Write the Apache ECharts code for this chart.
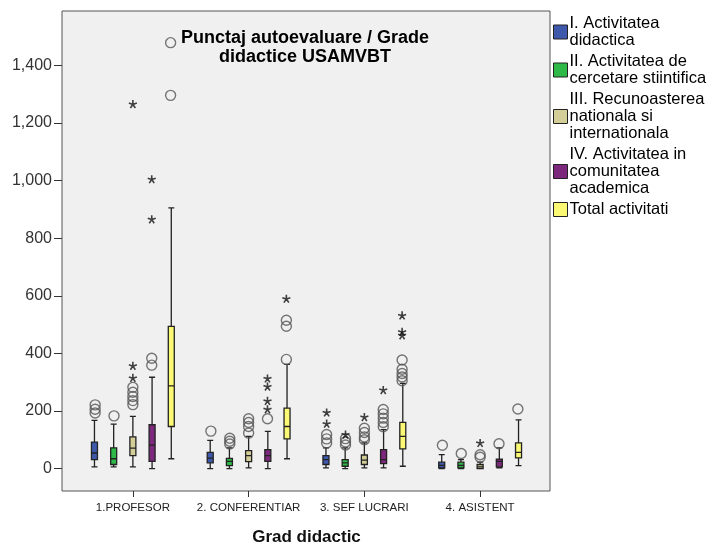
<!DOCTYPE html>
<html><head><meta charset="utf-8">
<script src="https://cdn.jsdelivr.net/npm/echarts@6/dist/echarts.min.js"></script>
<style>html,body{margin:0;padding:0;background:#fff}#c{width:713px;height:543px}</style>
</head><body><div id="c"></div>
<script>
// ---------- data ----------
const categories = ['1.PROFESOR', '2. CONFERENTIAR', '3. SEF LUCRARI', '4. ASISTENT'];
const seriesNames = [
  'I. Activitatea\ndidactica',
  'II. Activitatea de\ncercetare stiintifica',
  'III. Recunoasterea\nnationala si\ninternationala',
  'IV. Activitatea in\ncomunitatea\nacademica',
  'Total activitati'
];
const seriesColors = ['#3e58ac', '#2eb848', '#d3ce97', '#7c287d', '#fbf873'];
const yTicks = [0, 200, 400, 600, 800, 1000, 1200, 1400];

// box stats [min, Q1, median, Q3, max] per category
const didacticaBox  = [[6, 31, 54, 92, 167], [0, 20, 36, 56, 98], [2, 14, 31, 45, 72], [0, 2, 11, 22, 48]];
const cercetareBox  = [[6, 14, 34, 72, 154], [0, 10, 25, 35, 72], [0, 8, 20, 31, 72], [0, 2, 11, 22, 31]];
const recunoastBox  = [[6, 45, 71, 110, 181], [2, 24, 45, 62, 112], [2, 14, 29, 47, 89], [0, 0, 6, 14, 22]];
const comunitateBox = [[0, 25, 81, 152, 317], [0, 25, 45, 66, 129], [2, 17, 31, 66, 135], [2, 6, 25, 33, 72]];
const totalBox      = [[34, 146, 287, 494, 905], [34, 103, 146, 210, 362], [8, 68, 112, 160, 296], [10, 37, 56, 89, 169]];

// outliers (circles) per category
const didacticaOut  = [[193, 206, 221], [130], [89, 103, 118], [81]];
const cercetareOut  = [[183], [85, 95, 105], [82, 92, 104], [52]];
const recunoastOut  = [[222, 236, 250, 265, 282], [123, 146, 160, 173], [100, 110, 125, 140], [39, 48]];
const comunitateOut = [[359, 383], [173], [145, 160, 175, 190, 205], [86]];
const totalOut      = [[1296, 1479], [379, 494, 515], [305, 318, 330, 345, 377], [207]];

// extremes (stars) per category
const didacticaExt  = [[], [], [156, 195], []];
const cercetareExt  = [[], [], [118], []];
const recunoastExt  = [[315, 357, 1266], [], [179], [89]];
const comunitateExt = [[866, 1005], [206, 235, 285, 313], [273], []];
const totalExt      = [[], [590], [463, 475, 532], []];

// ---------- build ----------
const boxes = [didacticaBox, cercetareBox, recunoastBox, comunitateBox, totalBox];
const outs = [didacticaOut, cercetareOut, recunoastOut, comunitateOut, totalOut];
const exts = [didacticaExt, cercetareExt, recunoastExt, comunitateExt, totalExt];
const SLOT = 0.163; // horizontal slot of each box inside a category, in category units
const STAR = 'path://M5 5L5 0M5 5L9.76 3.45M5 5L7.94 9.05M5 5L2.06 9.05M5 5L0.24 3.45';
const FONT = 'Liberation Sans, Arial, sans-serif';

function points(list, s) {
  const out = [];
  list.forEach((vals, ci) => vals.forEach(v => out.push([ci + (s - 2) * SLOT, v])));
  return out;
}

const Y_MIN = -78, Y_MAX = 1589;
const series = [];
boxes.forEach((b, s) => {
  series.push({
    type: 'boxplot', name: seriesNames[s], xAxisIndex: 1, yAxisIndex: 1,
    data: b, boxWidth: [6, 6],
    itemStyle: { color: seriesColors[s], borderColor: '#222', borderWidth: 1.3 },
    emphasis: { disabled: true }, silent: true
  });
});
boxes.forEach((b, s) => {
  series.push({
    type: 'scatter', name: 'o' + s, xAxisIndex: 2, yAxisIndex: 1,
    data: points(outs[s], s), symbol: 'circle', symbolSize: 10,
    itemStyle: { color: 'rgba(0,0,0,0)', borderColor: '#555', borderWidth: 1.4 },
    silent: true, z: 3
  });
  series.push({
    type: 'scatter', name: 'e' + s, xAxisIndex: 2, yAxisIndex: 1,
    data: points(exts[s], s), symbol: STAR, symbolSize: 8,
    itemStyle: { color: 'none', borderColor: '#111', borderWidth: 1.6 },
    silent: true, z: 3
  });
});

const chart = echarts.init(document.getElementById('c'));
chart.setOption({
  animation: false,
  backgroundColor: '#fff',
  textStyle: { fontFamily: FONT },
  title: {
    text: 'Punctaj autoevaluare / Grade\ndidactice USAMVBT',
    left: 305, top: 28, textAlign: 'center', padding: 0,
    textStyle: { fontFamily: FONT, fontSize: 18, fontWeight: 'bold', color: '#000', lineHeight: 19.5, align: 'center' }
  },
  legend: {
    orient: 'vertical', left: 553, top: 15, padding: 0, itemWidth: 14, itemHeight: 14, itemGap: 4,
    icon: 'rect', data: seriesNames.map((n, i) => ({ name: n, itemStyle: { color: seriesColors[i], borderColor: '#222', borderWidth: 1 } })),
    textStyle: { fontFamily: FONT, fontSize: 16.5, color: '#000', lineHeight: 17, padding: [0, 0, 0, -3] },
    selectedMode: false
  },
  grid: [
    { left: 62, right: 163, top: 11, bottom: 52, show: true, backgroundColor: '#f0f0f0', borderColor: '#555', borderWidth: 1, outerBoundsMode: 'none' },
    { left: 75, right: 175, top: 11, bottom: 52, outerBoundsMode: 'none' }
  ],
  xAxis: [
    { gridIndex: 0, type: 'value', show: false, min: 0, max: 1 },
    {
      gridIndex: 1, type: 'category', data: categories,
      axisLine: { show: false, onZero: false },
      axisTick: { show: true, alignWithLabel: true, length: 6, lineStyle: { color: '#333' } },
      axisLabel: { interval: 0, fontFamily: FONT, fontSize: 11.5, color: '#222', margin: 11 },
      name: 'Grad didactic', nameLocation: 'middle', nameGap: 38,
      nameTextStyle: { fontFamily: FONT, fontSize: 17, fontWeight: 'bold', color: '#111' }
    },
    { gridIndex: 1, type: 'value', show: false, min: -0.5, max: 3.5, axisLine: { onZero: false } }
  ],
  yAxis: [
    { gridIndex: 0, type: 'value', show: false, min: 0, max: 1 },
    {
      gridIndex: 1, type: 'value', min: Y_MIN, max: Y_MAX, offset: 13,
      axisLine: { show: false, onZero: false },
      splitLine: { show: false },
      axisTick: { show: true, length: 8, customValues: yTicks, lineStyle: { color: '#333' } },
      axisLabel: {
        customValues: yTicks, fontFamily: FONT, fontSize: 16, color: '#333', margin: 10,
        formatter: v => v.toLocaleString('en-US')
      }
    }
  ],
  series: series
});
</script>
</body></html>
